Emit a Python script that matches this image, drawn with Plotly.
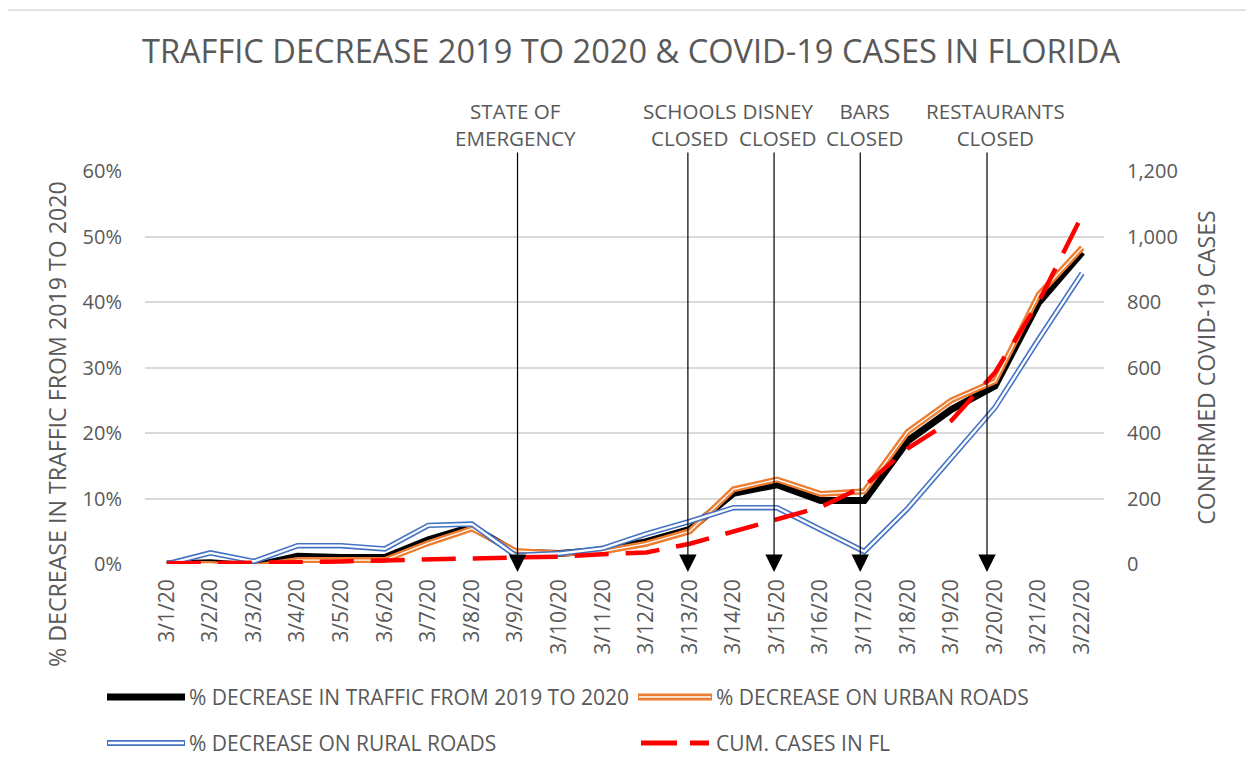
import plotly.graph_objects as go

# ---------------- data ----------------
dates = ["3/1/20", "3/2/20", "3/3/20", "3/4/20", "3/5/20", "3/6/20", "3/7/20", "3/8/20",
         "3/9/20", "3/10/20", "3/11/20", "3/12/20", "3/13/20", "3/14/20", "3/15/20",
         "3/16/20", "3/17/20", "3/18/20", "3/19/20", "3/20/20", "3/21/20", "3/22/20"]

total_decrease = [0.0, 0.2, -0.3, 1.2, 1.0, 1.0, 3.7, 5.7, 1.8, 1.6, 2.1, 3.4, 5.3, 10.8,
                  12.1, 9.7, 9.7, 18.8, 23.6, 27.2, 39.9, 47.6]
urban_decrease = [0.0, 0.0, -0.4, 0.6, 0.6, 0.6, 3.2, 5.4, 2.0, 1.6, 1.9, 3.1, 5.0, 11.4,
                  12.9, 10.7, 11.1, 20.2, 25.0, 27.9, 41.1, 48.3]
rural_decrease = [0.0, 1.7, 0.4, 2.8, 2.8, 2.3, 5.9, 6.1, 1.3, 1.6, 2.4, 4.6, 6.5, 8.6,
                  8.6, 5.2, 1.9, 8.5, 16.2, 23.9, 34.3, 44.4]
cum_cases = [2, 2, 3, 5, 8, 10, 14, 17, 20, 22, 30, 35, 62, 100, 137, 174, 238, 353, 438,
             585, 800, 1065]

events = ["STATE OF<br>EMERGENCY", "SCHOOLS<br>CLOSED", "DISNEY<br>CLOSED",
          "BARS<br>CLOSED", "RESTAURANTS<br>CLOSED"]
event_dates = ["3/9/20", "3/13/20", "3/15/20", "3/17/20", "3/20/20"]

series_names = ["% DECREASE IN TRAFFIC FROM 2019 TO 2020", "% DECREASE ON URBAN ROADS",
                "% DECREASE ON RURAL ROADS", "CUM. CASES IN FL"]

# ---------------- style ----------------
FONT = "Open Sans"
TXT = "#595959"
GRID = "#d9d9d9"
BLACK = "#000000"
ORANGE = "#ED7D31"
BLUE = "#4472C4"
RED = "#FF0000"

W, H = 1254, 773
OFF = 8  # page body margin
ML, MT = 145 - OFF, 171 - OFF
PW, PH = 959, 393
MR = W - ML - PW
MB = H - MT - PH


def px(x):
    return (x - OFF - ML) / PW


def py(y):
    return (MT + PH + OFF - y) / PH


fig = go.Figure()

# black total line
fig.add_trace(go.Scatter(x=dates, y=total_decrease, mode="lines", name=series_names[0],
                         line=dict(color=BLACK, width=7), showlegend=False))
# orange compound line
fig.add_trace(go.Scatter(x=dates, y=urban_decrease, mode="lines", name=series_names[1],
                         line=dict(color=ORANGE, width=6), showlegend=False))
fig.add_trace(go.Scatter(x=dates, y=urban_decrease, mode="lines", hoverinfo="skip",
                         line=dict(color="white", width=1.3), showlegend=False))
# blue double line
fig.add_trace(go.Scatter(x=dates, y=rural_decrease, mode="lines", name=series_names[2],
                         line=dict(color=BLUE, width=5.5), showlegend=False))
fig.add_trace(go.Scatter(x=dates, y=rural_decrease, mode="lines", hoverinfo="skip",
                         line=dict(color="white", width=2.3), showlegend=False))
# red dashed cases on secondary axis
fig.add_trace(go.Scatter(x=dates, y=cum_cases, mode="lines", name=series_names[3], yaxis="y2",
                         line=dict(color=RED, width=4.5, dash="34px,17px"), showlegend=False))

annotations = []
# event markers: arrows and labels
arrow_shift = [2, -2, -3, -4, -8]
tip_y, top_y = 572, 151
for label, d, sh in zip(events, event_dates, arrow_shift):
    i = dates.index(d)
    annotations.append(dict(x=i, y=py(tip_y), xref="x", yref="paper",
                            ax=0, ay=-(tip_y - top_y), axref="pixel", ayref="pixel",
                            text="", showarrow=True,
                            arrowhead=2, arrowsize=2.9, arrowwidth=1.2, arrowcolor="#000000",
                            standoff=0, xshift=sh))
    annotations.append(dict(x=i, y=py(124.5), xref="x", yref="paper", text=label,
                            showarrow=False, yanchor="middle", xanchor="center",
                            font=dict(family=FONT, size=20.6, color=TXT)))

# left axis title
annotations.append(dict(x=px(57), y=py(424), xref="paper", yref="paper",
                        text="% DECREASE IN TRAFFIC FROM 2019 TO 2020", textangle=-90,
                        showarrow=False, xanchor="center", yanchor="middle",
                        font=dict(family=FONT, size=23.2, color=TXT)))

# manual legend
shapes = []
row1, row2 = py(697), py(743)
legend_text = [(187, row1, series_names[0]), (714, row1, series_names[1]),
               (187, row2, series_names[2]), (714, row2, series_names[3])]
# black
shapes.append(dict(type="line", xref="paper", yref="paper", x0=px(107), x1=px(185),
                   y0=row1, y1=row1, line=dict(color=BLACK, width=7)))
# orange
shapes.append(dict(type="line", xref="paper", yref="paper", x0=px(638), x1=px(712),
                   y0=row1, y1=row1, line=dict(color=ORANGE, width=7)))
shapes.append(dict(type="line", xref="paper", yref="paper", x0=px(639), x1=px(711),
                   y0=row1, y1=row1, line=dict(color="white", width=1.6)))
# blue
shapes.append(dict(type="line", xref="paper", yref="paper", x0=px(107), x1=px(185),
                   y0=row2, y1=row2, line=dict(color=BLUE, width=6)))
shapes.append(dict(type="line", xref="paper", yref="paper", x0=px(108), x1=px(184),
                   y0=row2, y1=row2, line=dict(color="white", width=2.4)))
# red dashed
shapes.append(dict(type="line", xref="paper", yref="paper", x0=px(641), x1=px(709),
                   y0=row2, y1=row2, line=dict(color=RED, width=5, dash="36px,13px")))
for (tx, yy, name) in legend_text:
    annotations.append(dict(x=px(tx), y=yy, xref="paper", yref="paper", text=name,
                            showarrow=False, xanchor="left", yanchor="middle",
                            font=dict(family=FONT, size=21, color=TXT)))

# chart border
shapes.append(dict(type="rect", xref="paper", yref="paper", x0=px(7), x1=px(1275),
                   y0=py(10), y1=py(800), line=dict(color=GRID, width=1.5), layer="below"))

fig.update_layout(
    width=W, height=H,
    margin=dict(l=ML, r=MR, t=MT, b=MB, autoexpand=False),
    paper_bgcolor="white", plot_bgcolor="white",
    font=dict(family=FONT, color=TXT),
    title=dict(text="TRAFFIC DECREASE 2019 TO 2020 &amp; COVID-19 CASES IN FLORIDA",
               x=(631 - OFF) / W, xref="container", xanchor="center",
               y=1 - (52 - OFF) / H, yref="container", yanchor="middle",
               font=dict(family=FONT, size=32.6, color=TXT)),
    xaxis=dict(type="category", categoryorder="array", categoryarray=dates,
               range=[-0.5, len(dates) - 0.5],
               tickangle=-90, showgrid=False, showline=False, zeroline=False,
               ticks="", ticklabelstandoff=10,
               tickfont=dict(family=FONT, size=21, color=TXT)),
    yaxis=dict(range=[0, 60], dtick=10, ticksuffix="%", showgrid=True, gridcolor=GRID,
               gridwidth=1.5, zeroline=False, showline=False, ticks="",
               ticklabelstandoff=22, tickfont=dict(family=FONT, size=20, color=TXT)),
    yaxis2=dict(range=[0, 1200], dtick=200, tickformat=",", overlaying="y", side="right",
                showgrid=False, zeroline=False, showline=False, ticks="",
                ticklabelstandoff=22, tickfont=dict(family=FONT, size=20, color=TXT),
                title=dict(text="CONFIRMED COVID-19 CASES", standoff=21,
                           font=dict(family=FONT, size=23, color=TXT))),
    annotations=annotations,
    shapes=shapes,
    showlegend=False,
)

fig.write_html("out.html")
